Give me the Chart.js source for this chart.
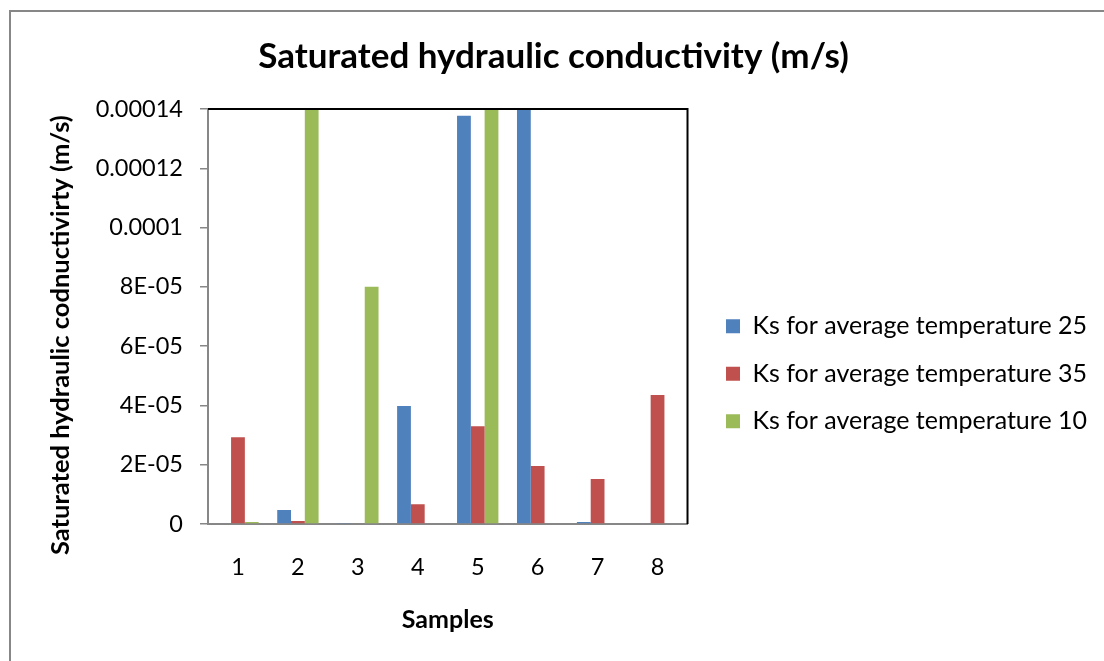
<!DOCTYPE html>
<html>
<head>
<meta charset="utf-8">
<script src="https://cdn.jsdelivr.net/npm/chart.js@4/dist/chart.umd.min.js"></script>
<style>
  html, body { margin: 0; padding: 0; background: #ffffff; overflow: hidden; }
  #frame { position: absolute; left: 9px; top: 10px; width: 3000px; height: 3000px;
           border-left: 2px solid #878787; border-top: 2px solid #878787; }
  #wrap { position: absolute; left: 0; top: 0; width: 1104px; height: 661px; }
</style>
</head>
<body>
<div id="frame"></div>
<div id="wrap"><canvas id="c" width="1104" height="661"></canvas></div>
<script>
const categories = ['1', '2', '3', '4', '5', '6', '7', '8'];
const seriesNames = ['Ks for average temperature 25', 'Ks for average temperature 35', 'Ks for average temperature 10'];
const ks25 = [0, 4.7e-6, 3e-7, 3.98e-5, 1.377e-4, 1.4e-4, 7e-7, 0];
const ks35 = [2.93e-5, 1e-6, 0, 6.7e-6, 3.3e-5, 1.96e-5, 1.52e-5, 4.35e-5];
const ks10 = [7e-7, 1.4e-4, 8.0e-5, 0, 1.4e-4, 0, 0, 0];
const yTickValues = [0, 2e-5, 4e-5, 6e-5, 8e-5, 1e-4, 1.2e-4, 1.4e-4];
const yTickLabels = ['0', '2E-05', '4E-05', '6E-05', '8E-05', '0.0001', '0.00012', '0.00014'];
const colors = ['#4F81BD', '#C0504D', '#9BBB59'];

const FONT = 'Lato, "Open Sans", sans-serif';

const frameLines = {
  id: 'frameLines',
  afterDatasetsDraw(chart) {
    const {ctx, chartArea: a} = chart;
    ctx.save();
    ctx.strokeStyle = '#000000';
    ctx.lineWidth = 2;
    ctx.beginPath();
    ctx.moveTo(a.left, a.top);
    ctx.lineTo(a.right, a.top);
    ctx.lineTo(a.right, a.bottom);
    ctx.stroke();
    ctx.restore();
  }
};

new Chart(document.getElementById('c'), {
  type: 'bar',
  data: {
    labels: categories,
    datasets: [
      { label: seriesNames[0], data: ks25, backgroundColor: colors[0] },
      { label: seriesNames[1], data: ks35, backgroundColor: colors[1] },
      { label: seriesNames[2], data: ks10, backgroundColor: colors[2] }
    ]
  },
  options: {
    responsive: false,
    animation: false,
    devicePixelRatio: 1,
    layout: { padding: { left: 10, right: 7, top: 0, bottom: 0 } },
    datasets: { bar: { barPercentage: 1.0, categoryPercentage: 0.69 } },
    plugins: {
      title: {
        display: true,
        text: 'Saturated hydraulic conductivity (m/s)',
        color: '#000000',
        font: { family: FONT, size: 35, weight: 'bold' },
        padding: { top: 36, bottom: 31 }
      },
      legend: {
        position: 'right',
        maxWidth: 500,
        title: { display: true, text: '', font: { size: 12 }, padding: { top: 72, bottom: 0 } },
        labels: {
          color: '#000000',
          font: { family: FONT, size: 25 },
          boxWidth: 14, boxHeight: 14,
          padding: 22.5
        }
      },
      tooltip: { enabled: false }
    },
    scales: {
      x: {
        afterFit(scale) { scale.height = 137; },
        grid: { display: true, drawOnChartArea: false, drawTicks: false, color: '#878787' },
        border: { display: true, color: '#878787', width: 2 },
        ticks: { color: '#000000', font: { family: FONT, size: 23.5 }, padding: 29 },
        title: {
          display: true, text: 'Samples', color: '#000000',
          font: { family: FONT, size: 25, weight: 'bold' },
          padding: { top: 0, bottom: 26 }
        }
      },
      y: {
        min: 0, max: 1.4e-4,
        afterFit(scale) { scale.width = 198; },
        afterBuildTicks(scale) { scale.ticks = yTickValues.map(v => ({ value: v })); },
        grid: { display: true, drawOnChartArea: false, drawTicks: true, tickLength: 8, color: '#878787', lineWidth: 1.5 },
        border: { display: true, color: '#878787', width: 2 },
        ticks: {
          color: '#000000', font: { family: FONT, size: 23.5 }, padding: 17,
          callback: (v, i) => yTickLabels[i]
        },
        title: {
          display: true, text: 'Saturated hydraulic codnuctivirty (m/s)      ', color: '#000000',
          font: { family: FONT, size: 25.5, weight: 'bold' },
          padding: { top: 35, bottom: 0 }
        }
      },
      gap: {
        position: 'right',
        display: true,
        afterFit(scale) { scale.width = 16; },
        grid: { display: false, drawTicks: false },
        border: { display: false },
        ticks: { display: false },
        title: { display: false }
      }
    }
  },
  plugins: [frameLines]
});
</script>
</body>
</html>
